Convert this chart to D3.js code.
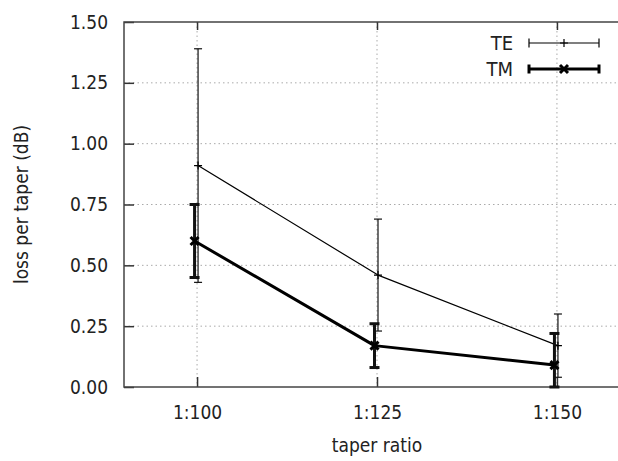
<!DOCTYPE html>
<html>
<head>
<meta charset="utf-8" />
<script src="https://d3js.org/d3.v7.min.js"></script>
<style>
  body { margin: 0; background: #fff; }
  text { font-family: "DejaVu Sans Condensed", "DejaVu Sans", sans-serif; font-stretch: condensed; fill: #222; }
</style>
</head>
<body>
<div id="chart"></div>
<script>
// taper ratios on the x axis
var ratios = ["1:100", "1:125", "1:150"];

// TE: loss per taper (dB) with error bar ends
var teLoss = [0.91, 0.46, 0.17];
var teLow  = [0.43, 0.23, 0.04];
var teHigh = [1.39, 0.69, 0.30];

// TM: loss per taper (dB) with error bar ends
var tmLoss = [0.60, 0.17, 0.09];
var tmLow  = [0.45, 0.08, 0.00];
var tmHigh = [0.75, 0.26, 0.22];

var yTicks = [0, 0.25, 0.5, 0.75, 1.0, 1.25, 1.5];

var margin = {top: 22, right: -12, bottom: 74, left: 124},
    fullW = 618, fullH = 461,
    width = fullW - margin.left - margin.right,
    height = fullH - margin.top - margin.bottom;

var svg = d3.select("#chart").append("svg")
    .attr("width", fullW)
    .attr("height", fullH)
  .append("g")
    .attr("transform", "translate(" + margin.left + "," + margin.top + ")");

var x = d3.scalePoint().domain(ratios).range([0, width]).padding(0.406);
var y = d3.scaleLinear().domain([0, 1.5]).range([height, 0]);

// grid
svg.append("g").selectAll("line.gy")
  .data(yTicks.slice(1, -1)).enter().append("line")
    .attr("x1", 0).attr("x2", width)
    .attr("y1", function(d) { return y(d); }).attr("y2", function(d) { return y(d); })
    .attr("stroke", "#aaa").attr("stroke-dasharray", "1.5,3");
svg.append("g").selectAll("line.gx")
  .data(ratios).enter().append("line")
    .attr("x1", function(d) { return x(d); }).attr("x2", function(d) { return x(d); })
    .attr("y1", 0).attr("y2", height)
    .attr("stroke", "#aaa").attr("stroke-dasharray", "1.5,3");

// axes (ticks inside the frame)
svg.append("g")
  .call(d3.axisLeft(y).tickValues(yTicks).tickFormat(d3.format(".2f")).tickSizeInner(-10).tickSizeOuter(0).tickPadding(16));
svg.append("g")
  .attr("transform", "translate(0," + height + ")")
  .call(d3.axisBottom(x).tickSizeInner(-10).tickSizeOuter(0).tickPadding(19));
svg.append("g")
  .call(d3.axisTop(x).tickSizeInner(-8).tickSizeOuter(0).tickFormat(""));
svg.append("g")
  .attr("transform", "translate(" + width + ",0)")
  .call(d3.axisRight(y).tickValues(yTicks).tickSizeInner(-10).tickSizeOuter(0).tickFormat(""));
svg.selectAll(".domain").remove();
svg.selectAll(".tick line").attr("stroke", "#333").attr("stroke-width", 1.5);
svg.selectAll(".tick text").style("font-size", "19px").attr("fill", "#222");

// frame
svg.append("rect")
  .attr("width", width).attr("height", height)
  .attr("fill", "none").attr("stroke", "#444").attr("stroke-width", 1.5);

// axis titles
svg.append("text")
  .attr("x", x("1:125")).attr("y", height + 65)
  .attr("text-anchor", "middle").style("font-size", "19px")
  .text("taper ratio");
svg.append("text")
  .attr("transform", "translate(" + (-96) + "," + (height / 2) + ") rotate(-90)")
  .attr("text-anchor", "middle").style("font-size", "19px")
  .text("loss per taper (dB)");

function drawSeries(loss, low, high, dx, lw, cap, marker) {
  var g = svg.append("g");
  var pts = ratios.map(function(r, i) { return {x: x(r) + dx, v: loss[i], lo: low[i], hi: high[i]}; });
  g.append("path")
    .datum(pts)
    .attr("d", d3.line().x(function(d) { return d.x; }).y(function(d) { return y(d.v); }))
    .attr("fill", "none").attr("stroke", "#000").attr("stroke-width", lw)
    .attr("stroke-linejoin", "round");
  pts.forEach(function(d) {
    g.append("line").attr("x1", d.x).attr("x2", d.x).attr("y1", y(d.lo)).attr("y2", y(d.hi))
      .attr("stroke", "#111").attr("stroke-width", lw);
    [d.lo, d.hi].forEach(function(e) {
      g.append("line").attr("x1", d.x - cap).attr("x2", d.x + cap).attr("y1", y(e)).attr("y2", y(e))
        .attr("stroke", "#111").attr("stroke-width", lw);
    });
    marker(g, d.x, y(d.v));
  });
}

function plusMark(g, cx, cy) {
  g.append("path").attr("d", "M" + (cx - 4) + "," + cy + "H" + (cx + 4) + "M" + cx + "," + (cy - 4) + "V" + (cy + 4))
    .attr("stroke", "#000").attr("stroke-width", 1.2);
}
function crossMark(g, cx, cy) {
  g.append("path").attr("d", "M" + (cx - 4) + "," + (cy - 4) + "L" + (cx + 4) + "," + (cy + 4) +
      "M" + (cx - 4) + "," + (cy + 4) + "L" + (cx + 4) + "," + (cy - 4))
    .attr("stroke", "#000").attr("stroke-width", 3);
}

drawSeries(teLoss, teLow, teHigh, 1, 1.2, 4, plusMark);
drawSeries(tmLoss, tmLow, tmHigh, -2.5, 3, 5, crossMark);

// legend
var legend = [
  {name: "TE", lw: 1.2, cap: 4.5, mark: plusMark},
  {name: "TM", lw: 3, cap: 4.5, mark: crossMark}
];
var lg = svg.append("g").attr("transform", "translate(" + (513 - margin.left) + "," + (43 - margin.top) + ")");
legend.forEach(function(d, i) {
  var row = lg.append("g").attr("transform", "translate(0," + (i * 26) + ")");
  row.append("text").attr("x", 0).attr("y", 0).attr("dy", "0.36em")
    .attr("text-anchor", "end").style("font-size", "20px").text(d.name);
  row.append("line").attr("x1", 16).attr("x2", 86).attr("y1", 0).attr("y2", 0)
    .attr("stroke", "#000").attr("stroke-width", d.lw);
  [16, 86].forEach(function(px) {
    row.append("line").attr("x1", px).attr("x2", px).attr("y1", -d.cap).attr("y2", d.cap)
      .attr("stroke", "#000").attr("stroke-width", d.lw);
  });
  d.mark(row, 51, 0);
});
</script>
</body>
</html>
